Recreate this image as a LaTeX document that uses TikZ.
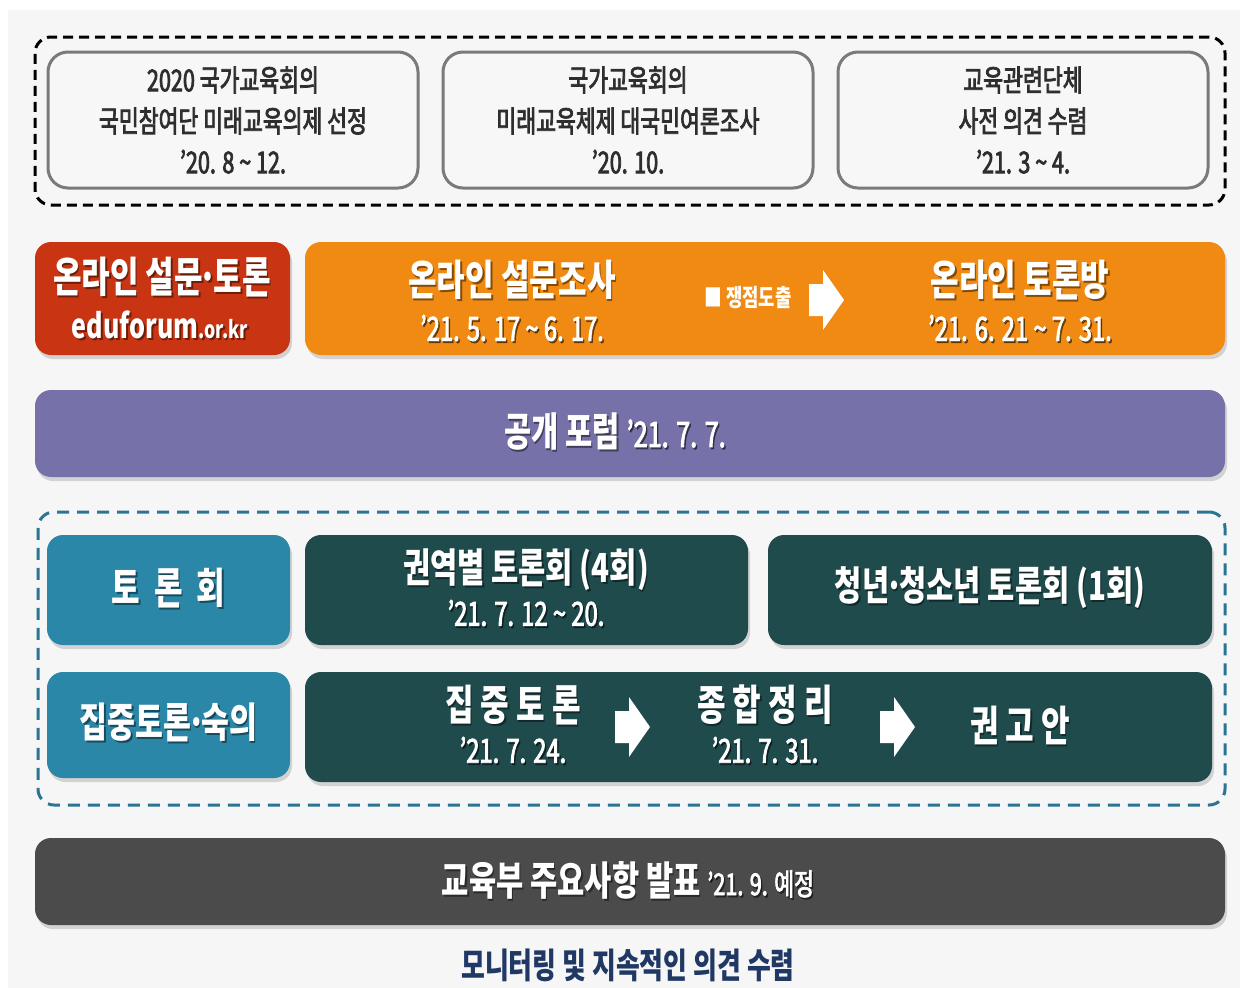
\documentclass[tikz,border=0pt]{standalone}
\usepackage{fontspec}
\setmainfont{Noto Sans CJK KR}[FakeStretch=0.74]
\newfontfamily\krmed{Noto Sans CJK KR}[FakeStretch=0.72, FakeBold=2.5]
\usetikzlibrary{shadows}
\definecolor{panel}{HTML}{F6F6F6}
\definecolor{topfill}{HTML}{F7F7F7}
\definecolor{boxgray}{HTML}{7A7A7A}
\definecolor{txtgray}{HTML}{2E2E2E}
\definecolor{redbox}{HTML}{C93512}
\definecolor{orangebox}{HTML}{F08A12}
\definecolor{purplebox}{HTML}{7671A8}
\definecolor{tealdash}{HTML}{2A7595}
\definecolor{lteal}{HTML}{2A87A8}
\definecolor{dteal}{HTML}{1F4B4D}
\definecolor{darkbar}{HTML}{4B4B4B}
\definecolor{navy}{HTML}{1F3864}
\newcommand\myfs[1]{\fontsize{#1}{#1}\selectfont\bfseries}
\newcommand\mymd[1]{\krmed\mdseries\fontsize{#1}{#1}\selectfont}
\newcommand\mdot{\kern-0.1em·\kern-0.1em}
\newcommand\stxt[4]{%
  \node[text=black, opacity=.45, font=#3, inner sep=0pt, align=center, xshift=1.5pt, yshift=-2pt] at (#1) {#4};
  \node[text=white, font=#3, inner sep=0pt, align=center] (#2) at (#1) {#4};}
\begin{document}
\begin{tikzpicture}[x=1pt,y=-1pt,
  topbox/.style={draw=boxgray, line width=3pt, fill=topfill, rounded corners=20pt, text=txtgray, align=center, font=\krmed\fontsize{30}{41}\selectfont, inner sep=0pt, minimum width=370pt, minimum height=136pt},
  bar/.style={rounded corners=16pt, inner sep=0pt, drop shadow={opacity=0.3, shadow xshift=2pt, shadow yshift=-4pt}},
  frame/.style={line width=3pt, rounded corners=16pt, inner sep=0pt},
  blockarrow/.pic={\fill[white] (-17,-16) -- (-3,-16) -- (-3,-30) -- (18,0) -- (-3,30) -- (-3,16) -- (-17,16) -- cycle;}
]
\useasboundingbox (0,0) rectangle (1248,988);
\fill[white] (0,0) rectangle (1248,988);
\fill[panel] (8,10) rectangle (1240,988);

% top group
\node[frame, draw=black, dash pattern=on 10pt off 6pt, minimum width=1190pt, minimum height=168pt] (top) at (630,121) {};
\node[topbox] (t1) at (233,120) {2020 국가교육회의\\국민참여단 미래교육의제 선정\\’20. 8 \textasciitilde{} 12.};
\node[topbox] (t2) at (628,120) {국가교육회의\\미래교육체제 대국민여론조사\\’20. 10.};
\node[topbox] (t3) at (1023,120) {교육관련단체\\사전 의견 수렴\\’21. 3 \textasciitilde{} 4.};

% online row
\node[bar, fill=redbox, minimum width=255pt, minimum height=113pt] (red) at (162.5,298.5) {};
\node[bar, fill=orangebox, minimum width=920pt, minimum height=113pt] (orange) at (765,298.5) {};
\stxt{162,277}{redt}{\myfs{42}}{온라인 설문\mdot 토론}
\stxt{160,325}{redu}{\myfs{34}}{eduforum{\myfs{24}.or.kr}}
\stxt{512,280}{s1}{\myfs{42}}{온라인 설문조사}
\stxt{512,328}{d1}{\mymd{33}}{’21. 5. 17 \textasciitilde{} 6. 17.}
\node[text=white, font=\myfs{24}, inner sep=0pt] (issue) at (748,298) {■ 쟁점도출};
\pic at (826,300) {blockarrow};
\stxt{1020,280}{s2}{\myfs{42}}{온라인 토론방}
\stxt{1020,328}{d2}{\mymd{33}}{’21. 6. 21 \textasciitilde{} 7. 31.}

% forum
\node[bar, fill=purplebox, minimum width=1190pt, minimum height=87pt] (forum) at (630,433.5) {};
\stxt{615,432}{forumt}{\myfs{40}}{공개 포럼 {\mymd{35}’21. 7. 7.}}

% discussion group
\node[frame, draw=tealdash, dash pattern=on 12pt off 8pt, minimum width=1187pt, minimum height=293pt] (grp) at (631.5,658.5) {};
\node[bar, fill=lteal, minimum width=243pt, minimum height=110pt] (b1) at (168.5,590) {};
\stxt{168.5,588}{b1t}{\myfs{42}}{토\,\,론\,\,회}
\node[bar, fill=dteal, minimum width=443pt, minimum height=110pt] (b2) at (526.5,590) {};
\stxt{526,570}{b2t}{\myfs{40}}{권역별 토론회 (4회)}
\stxt{526,613}{b2d}{\mymd{33}}{’21. 7. 12 \textasciitilde{} 20.}
\node[bar, fill=dteal, minimum width=444pt, minimum height=110pt] (b3) at (990,590) {};
\stxt{990,588}{b3t}{\myfs{40}}{청년\mdot 청소년 토론회 (1회)}
\node[bar, fill=lteal, minimum width=243pt, minimum height=106pt] (b4) at (168.5,725) {};
\stxt{168.5,722}{b4t}{\myfs{41}}{집중토론\mdot 숙의}
\node[bar, fill=dteal, minimum width=907pt, minimum height=110pt] (b5) at (758.5,727) {};
\stxt{513,705}{c1}{\myfs{42}}{집\,중\,토\,론}
\stxt{513,750}{c1d}{\mymd{33}}{’21. 7. 24.}
\pic at (632,727) {blockarrow};
\stxt{765,705}{c2}{\myfs{42}}{종\,합\,정\,리}
\stxt{765,750}{c2d}{\mymd{33}}{’21. 7. 31.}
\pic at (897,727) {blockarrow};
\stxt{1020,725}{c3}{\myfs{42}}{권\,고\,안}

% announcement
\node[bar, fill=darkbar, minimum width=1190pt, minimum height=87pt] (ann) at (630,881.5) {};
\stxt{628,880}{annt}{\myfs{40}}{교육부 주요사항 발표 {\mymd{30}’21. 9. 예정}}

\node[text=navy, font=\myfs{35}, inner sep=0pt] (mon) at (628,965) {모니터링 및 지속적인 의견 수렴};
\end{tikzpicture}
\end{document}
